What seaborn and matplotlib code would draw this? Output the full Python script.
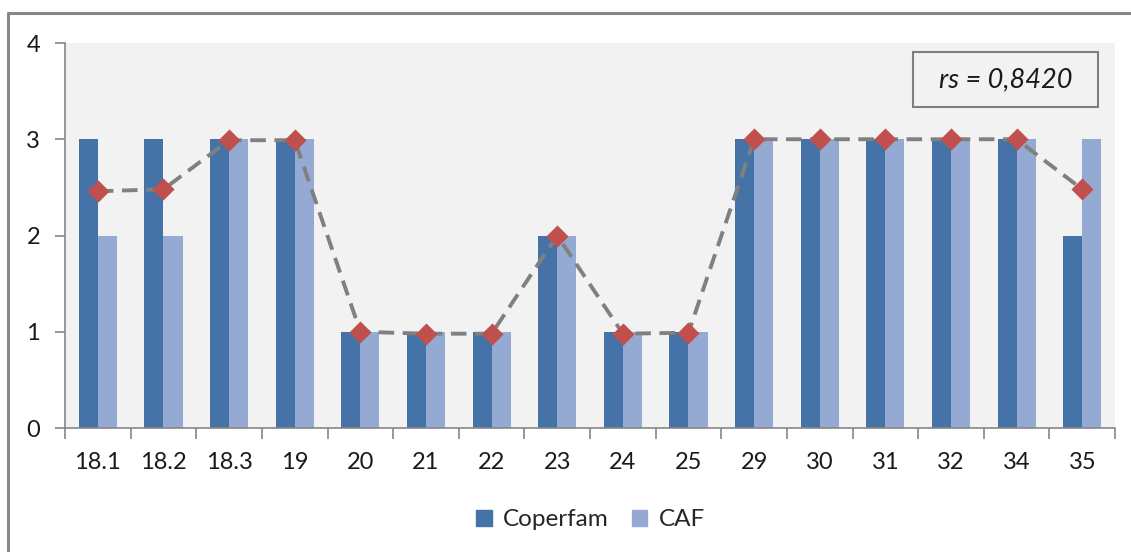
import matplotlib
matplotlib.use("Agg")
import matplotlib.pyplot as plt
from matplotlib.patches import Rectangle
from matplotlib.lines import Line2D
import pandas as pd
import seaborn as sns

# Item codes and scores per group
items = ["18.1", "18.2", "18.3", "19", "20", "21", "22", "23", "24", "25",
         "29", "30", "31", "32", "34", "35"]
coperfam = [3, 3, 3, 3, 1, 1, 1, 2, 1, 1, 3, 3, 3, 3, 3, 2]
caf = [2, 2, 3, 3, 1, 1, 1, 2, 1, 1, 3, 3, 3, 3, 3, 3]
# Combined score line
combined = [2.46, 2.48, 2.99, 2.99, 1.0, 0.98, 0.98, 2.0, 0.98, 0.99,
            3.0, 3.0, 3.0, 3.0, 3.0, 2.48]
series_names = ["Coperfam", "CAF"]
rs_label = "rs = 0,8420"

sns.set_theme(style="white")
plt.rcParams["font.family"] = ["Lato", "DejaVu Sans"]

df = pd.DataFrame({
    "item": items * 2,
    "score": coperfam + caf,
    "group": [series_names[0]] * len(items) + [series_names[1]] * len(items),
})

fig = plt.figure(figsize=(11.31, 5.52), dpi=100)
ax = fig.add_axes([0.0575, 0.2246, 0.9284, 0.6975])
ax.set_facecolor("#f2f2f2")

palette = {"Coperfam": "#4673a7", "CAF": "#95aad3"}
sns.barplot(data=df, x="item", y="score", hue="group", order=items,
            hue_order=series_names, palette=palette, width=0.58, gap=0,
            saturation=1, ax=ax, legend=False, edgecolor="none")

sns.pointplot(x=items, y=combined, order=items, ax=ax, color="#808080",
              linestyle="--", marker="D", markersize=9, linewidth=2.8,
              markerfacecolor="#c0504d", markeredgecolor="#c0504d",
              errorbar=None, zorder=5)
for ln in ax.lines:
    ln.set_dashes([4, 2.2])
    ln.set_clip_on(False)

ax.set_xlim(-0.5, len(items) - 0.5)
ax.set_ylim(0, 4)
ax.set_yticks([0, 1, 2, 3, 4])
ax.set_xlabel("")
ax.set_ylabel("")

for side in ["top", "right"]:
    ax.spines[side].set_visible(False)
for side in ["left", "bottom"]:
    ax.spines[side].set_color("#868686")
    ax.spines[side].set_linewidth(1.2)

ax.set_xticks(range(len(items)))
ax.set_xticklabels(items)
ax.set_xticks([i - 0.5 for i in range(len(items) + 1)], minor=True)
ax.tick_params(axis="x", which="major", length=0, pad=17, labelsize=17,
               labelcolor="#1a1a1a")
ax.tick_params(axis="x", which="minor", length=8, width=1.2, color="#868686",
               direction="out", bottom=True)
ax.tick_params(axis="y", which="major", length=7, width=1.2, color="#868686",
               direction="out", left=True, pad=11, labelsize=17,
               labelcolor="#1a1a1a")

# Correlation annotation box
ax.add_patch(Rectangle((0.8076, 0.834), 0.176, 0.143, transform=ax.transAxes,
                       facecolor="#f2f2f2", edgecolor="#7f7f7f", lw=1.5,
                       zorder=6))
ax.text(0.8957, 0.905, rs_label, transform=ax.transAxes, ha="center",
        va="center", fontsize=19.5, style="italic", color="#1a1a1a", zorder=7)

handles = [Rectangle((0, 0), 1, 1, color=palette[n]) for n in series_names]
fig.legend(handles, series_names, loc="center", bbox_to_anchor=(0.522, 0.058),
           ncol=2, frameon=False, fontsize=17.5, handlelength=0.65,
           handleheight=0.65, handletextpad=0.45, columnspacing=0.95)

# Outer chart frame
fig.add_artist(Line2D([8 / 1131, 8 / 1131], [0, 1 - 13 / 552],
                      transform=fig.transFigure, color="#888888", lw=2.2))
fig.add_artist(Line2D([8 / 1131, 1], [1 - 13 / 552, 1 - 13 / 552],
                      transform=fig.transFigure, color="#888888", lw=2.2))

fig.savefig("out.png", dpi=100)
